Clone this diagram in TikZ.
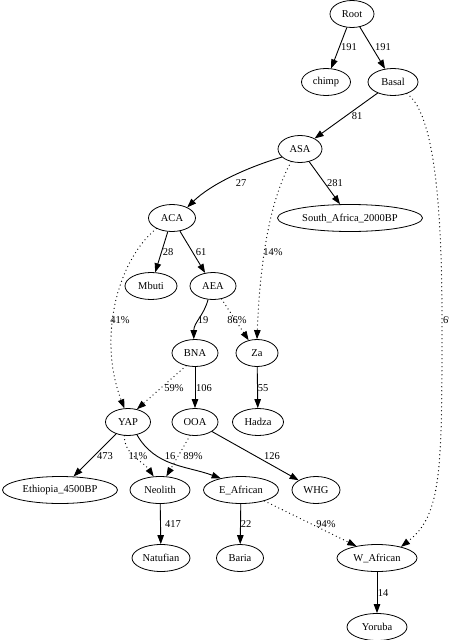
\documentclass[tikz,border=0pt]{standalone}
\usepackage{fontspec}
\setmainfont{Liberation Serif}
\usetikzlibrary{arrows.meta,shapes.geometric}
\begin{document}
\begin{tikzpicture}[x=1pt,y=-1pt,
  every node/.style={font=\fontsize{10.5}{12}\selectfont},
  pop/.style={draw, ellipse, line width=0.8pt, minimum height=27pt, inner sep=0pt},
  tree/.style={draw, line width=0.9pt, -{Triangle[length=9pt,width=6.5pt]}},
  mix/.style={draw, line width=1.3pt, line cap=round, dash pattern=on 0pt off 4pt, -{Triangle[length=9pt,width=6.5pt,line width=0.8pt]}},
  lab/.style={inner sep=0pt}]
\clip (0,0) rectangle (448,640);
\useasboundingbox (0,0) rectangle (448,640);
% nodes
\node[pop, minimum width=44pt] (Root) at (352,14) {Root};
\node[pop, minimum width=49pt] (chimp) at (326,82) {chimp};
\node[pop, minimum width=50pt] (Basal) at (393,82) {Basal};
\node[pop, minimum width=44pt] (ASA) at (300,149) {ASA};
\node[pop, minimum width=145pt] (SA) at (350,218) {South\_Africa\_2000BP};
\node[pop, minimum width=47pt] (ACA) at (172,218) {ACA};
\node[pop, minimum width=52pt] (Mbuti) at (151,286) {Mbuti};
\node[pop, minimum width=46pt] (AEA) at (213,286) {AEA};
\node[pop, minimum width=46pt] (BNA) at (195,353) {BNA};
\node[pop, minimum width=42pt] (Za) at (257,353) {Za};
\node[pop, minimum width=45pt] (YAP) at (128,422) {YAP};
\node[pop, minimum width=46pt] (OOA) at (195,422) {OOA};
\node[pop, minimum width=51pt] (Hadza) at (258,422) {Hadza};
\node[pop, minimum width=115pt] (Eth) at (60,490) {Ethiopia\_4500BP};
\node[pop, minimum width=60pt] (Neolith) at (160,490) {Neolith};
\node[pop, minimum width=75pt] (EAf) at (241,490) {E\_African};
\node[pop, minimum width=48pt] (WHG) at (316,490) {WHG};
\node[pop, minimum width=58pt] (Natufian) at (161,558) {Natufian};
\node[pop, minimum width=47pt] (Baria) at (240,558) {Baria};
\node[pop, minimum width=80pt] (WAf) at (377,558) {W\_African};
\node[pop, minimum width=60pt] (Yoruba) at (377,627) {Yoruba};
% tree edges
\draw[tree] (Root) -- (chimp) node[lab] at (349,47) {191};
\draw[tree] (Root) -- (Basal) node[lab] at (383,47) {191};
\draw[tree] (Basal) -- (ASA) node[lab] at (357,116) {81};
\draw[tree] (ASA.204) .. controls (245,168) and (210,185) .. (ACA.35) node[lab] at (241,183) {27};
\draw[tree] (ASA) -- (SA) node[lab] at (335,183) {281};
\draw[tree] (ACA) -- (Mbuti) node[lab] at (168,252) {28};
\draw[tree] (ACA) -- (AEA) node[lab] at (201,252) {61};
\draw[tree] (AEA.250) to[out=-105,in=90] (BNA.95) node[lab] at (203,320) {19};
\draw[tree] (BNA) -- (OOA) node[lab] at (204,388) {106};
\draw[tree] (Za) -- (Hadza) node[lab] at (263,388) {55};
\draw[tree] (YAP) -- (Eth) node[lab] at (105,456) {473};
\draw[tree] (YAP.-55) to[out=-60,in=160] (EAf.150) node[lab] at (170,456) {16};
\draw[tree] (OOA) -- (WHG) node[lab] at (272,456) {126};
\draw[tree] (Neolith) -- (Natufian) node[lab] at (173,524) {417};
\draw[tree] (EAf) -- (Baria) node[lab] at (246,524) {22};
\draw[tree] (WAf) -- (Yoruba) node[lab] at (383,593) {14};
% admixture edges
\draw[mix] (ASA.235) .. controls (270,200) and (260,260) .. (Za.90) node[lab] at (273,252) {14\%};
\draw[mix] (ACA.214) .. controls (116,262) and (98,340) .. (YAP.105) node[lab] at (120,320) {41\%};
\draw[mix] (AEA) -- (Za) node[lab] at (237,320) {86\%};
\draw[mix] (BNA.235) -- (YAP.55) node[lab] at (174,388) {59\%};
\draw[mix] (YAP.255) to[out=-90,in=125] (Neolith.115) node[lab] at (138,456) {11\%};
\draw[mix] (OOA.250) -- (Neolith.65) node[lab] at (193,456) {89\%};
\draw[mix] (EAf.-25) -- (WAf.150) node[lab] at (326,524) {94\%};
\draw[mix] (Basal.-40) .. controls (430,110) and (442,180) .. (442,320) .. controls (442,470) and (442,515) .. (WAf.25);
\node[lab, anchor=west] (sixlab) at (443,320) {6\%};
\end{tikzpicture}
\end{document}
